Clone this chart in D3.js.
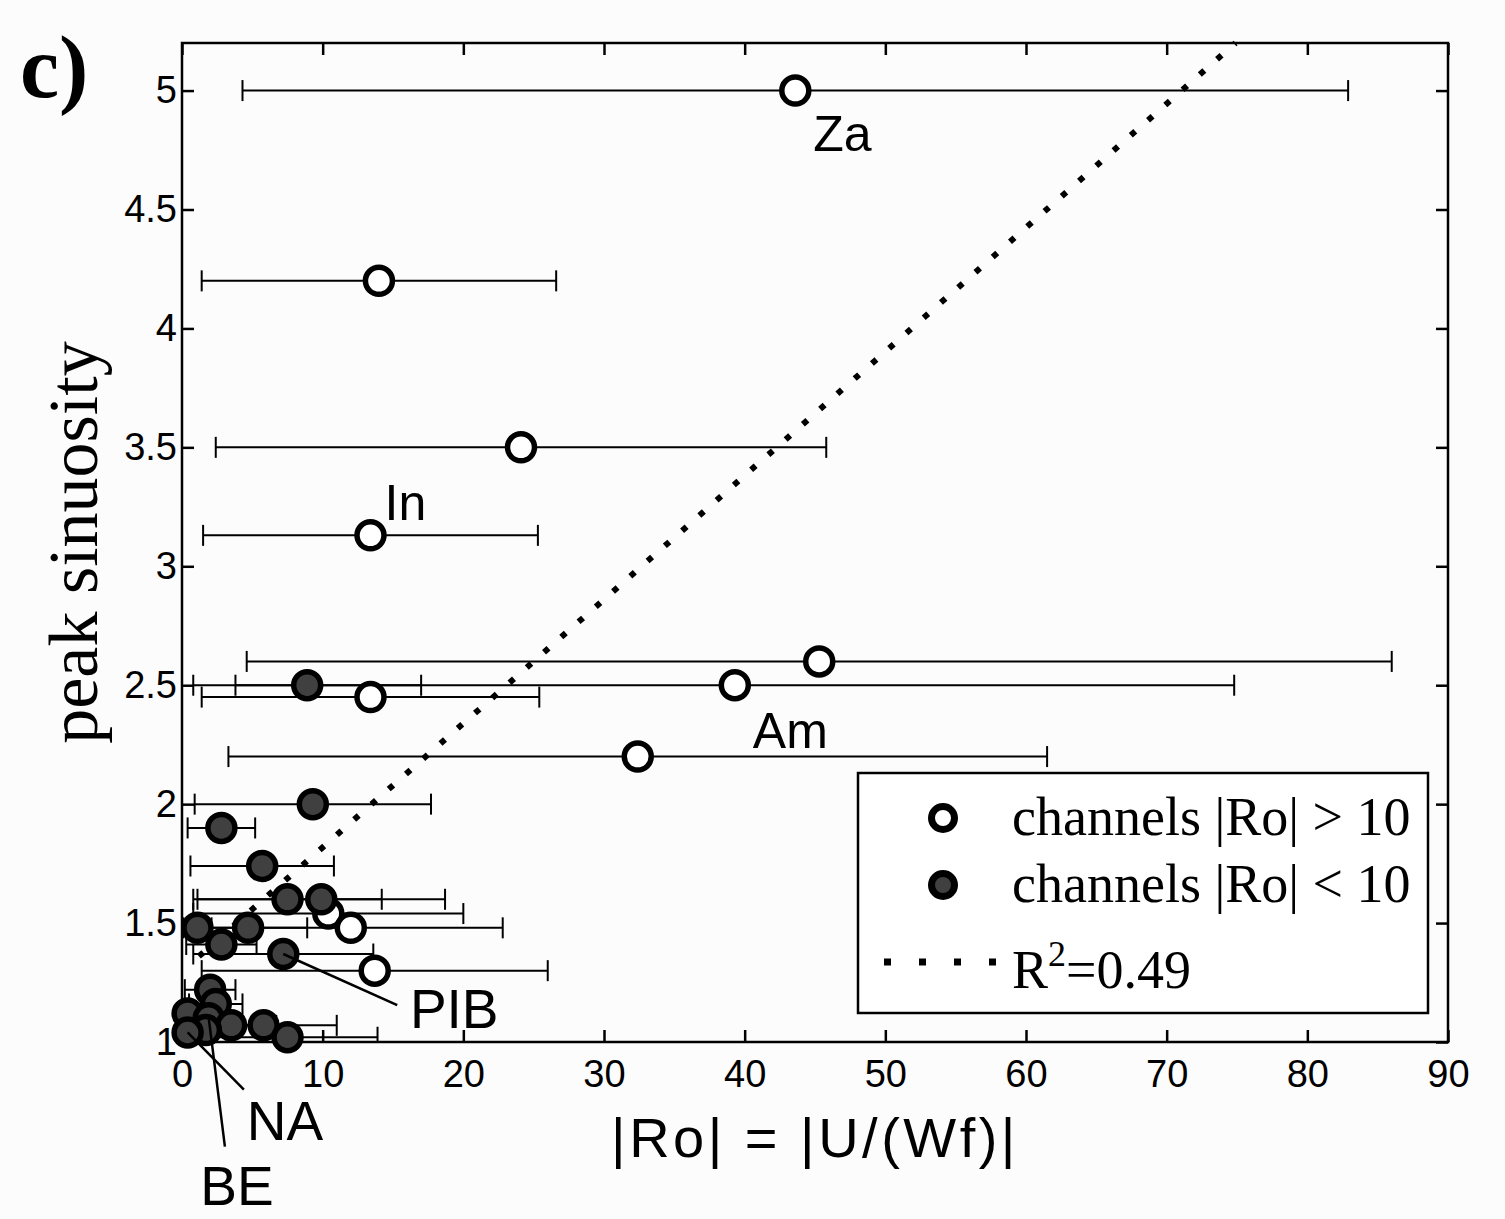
<!DOCTYPE html>
<html>
<head>
<meta charset="utf-8">
<script src="https://cdn.jsdelivr.net/npm/d3@7"></script>
<style>
  body { margin: 0; background: #fcfcfc; }
  svg { display: block; }
</style>
</head>
<body>
<script>
// open circles: channels |Ro| > 10
var openX   = [43.6, 14.0, 24.1, 13.4, 45.3, 39.3, 13.4, 32.4, 10.4, 12.0, 13.7];
var openY   = [5.00, 4.20, 3.50, 3.13, 2.60, 2.50, 2.45, 2.20, 1.54, 1.48, 1.30];
var openErr = [39.3, 12.6, 21.7, 11.9, 40.7, 35.5, 12.0, 29.1, 9.6, 10.8, 12.3];

// filled circles: channels |Ro| < 10
var fillX   = [8.9, 9.3, 2.8, 5.7, 7.5, 9.9, 1.1, 4.7, 2.8, 7.2, 2.0, 2.4, 0.4, 1.9, 3.5, 5.8, 1.7, 0.4, 7.5];
var fillY   = [2.50, 2.00, 1.90, 1.74, 1.60, 1.60, 1.48, 1.48, 1.41, 1.37, 1.22, 1.16, 1.12, 1.10, 1.07, 1.07, 1.05, 1.04, 1.02];
var fillErr = [8.1, 8.4, 2.4, 5.1, 6.7, 8.8, 1.0, 4.2, 2.5, 6.4, 1.8, 1.9, 0.4, 1.5, 3.2, 5.2, 1.4, 0.3, 6.4];

// linear fit, R^2 = 0.49
var fitX = [1.2, 74.9];
var fitY = [1.36, 5.20];

var xTicks = [0, 10, 20, 30, 40, 50, 60, 70, 80, 90];
var yTicks = [1, 1.5, 2, 2.5, 3, 3.5, 4, 4.5, 5];

// point labels, [name, point x, point y]
var plainLabels = [["Za", 43.6, 5.00], ["In", 13.4, 3.13], ["Am", 39.3, 2.50]];
// callout labels: [name, from x, from y, to x, to y, text x, text y]
var calloutLabels = [
    ["PIB", 7.2, 1.37, 15.3, 1.155, 16.2, 1.06],
    ["NA", 0.4, 1.04, 4.4, 0.80, 4.6, 0.588],
    ["BE", 1.9, 1.10, 3.05, 0.56, 1.3, 0.315]
];

const canvWidth = 1505, canvHeight = 1219;
const margin = {top: 43, right: 57, bottom: 177, left: 182};
const width = canvWidth - margin.left - margin.right;
const height = canvHeight - margin.top - margin.bottom;

const svg = d3.select("body").append("svg")
    .attr("width", canvWidth)
    .attr("height", canvHeight);

svg.append("rect")
    .attr("width", canvWidth).attr("height", canvHeight)
    .attr("fill", "#fcfcfc");

const g = svg.append("g")
    .attr("transform", "translate(" + margin.left + "," + margin.top + ")");

var xScale = d3.scaleLinear().domain([0, 90]).range([0, width]);
var yScale = d3.scaleLinear().domain([1, 5.2]).range([height, 0]);

// axes, ticks pointing inward, mirrored on top and right
var sans = "'Liberation Sans', Arial, Helvetica, sans-serif";
var serif = "'Liberation Serif', 'Times New Roman', serif";

function styleAxis(sel, showText) {
    sel.select(".domain").remove();
    sel.selectAll("line").attr("stroke", "#000").attr("stroke-width", 2.5);
    sel.selectAll("text")
        .attr("font-family", sans)
        .attr("font-size", "38px")
        .attr("fill", "#000")
        .style("display", showText ? null : "none");
}

g.append("g")
    .attr("transform", "translate(0," + height + ")")
    .call(d3.axisBottom(xScale).tickValues(xTicks).tickSizeInner(-12).tickSizeOuter(0).tickPadding(18))
    .call(styleAxis, true);
g.append("g")
    .call(d3.axisTop(xScale).tickValues(xTicks).tickSizeInner(-12).tickSizeOuter(0))
    .call(styleAxis, false);
g.append("g")
    .call(d3.axisLeft(yScale).tickValues(yTicks).tickSizeInner(-12).tickSizeOuter(0).tickPadding(5).tickFormat(d => String(d)))
    .call(styleAxis, true);
g.append("g")
    .attr("transform", "translate(" + width + ",0)")
    .call(d3.axisRight(yScale).tickValues(yTicks).tickSizeInner(-12).tickSizeOuter(0))
    .call(styleAxis, false);

g.append("rect")
    .attr("width", width).attr("height", height)
    .attr("fill", "none").attr("stroke", "#000").attr("stroke-width", 2.5);

// data rows
var openData = openX.map((x, i) => ({x: x, y: openY[i], e: openErr[i]}));
var fillData = fillX.map((x, i) => ({x: x, y: fillY[i], e: fillErr[i]}));
var allData = openData.concat(fillData);

g.append("clipPath").attr("id", "plotclip")
    .append("rect").attr("width", width).attr("height", height);

// error bars
var bars = g.append("g").attr("clip-path", "url(#plotclip)")
    .selectAll("g.ebar").data(allData).enter()
    .append("g").attr("class", "ebar")
    .attr("stroke", "#000").attr("stroke-width", 2);
bars.append("line")
    .attr("x1", d => xScale(d.x - d.e)).attr("x2", d => xScale(d.x + d.e))
    .attr("y1", d => yScale(d.y)).attr("y2", d => yScale(d.y));
bars.append("line")
    .attr("x1", d => xScale(d.x - d.e)).attr("x2", d => xScale(d.x - d.e))
    .attr("y1", d => yScale(d.y) - 10.5).attr("y2", d => yScale(d.y) + 10.5);
bars.append("line")
    .attr("x1", d => xScale(d.x + d.e)).attr("x2", d => xScale(d.x + d.e))
    .attr("y1", d => yScale(d.y) - 10.5).attr("y2", d => yScale(d.y) + 10.5);

// dotted fit line
var lineFunction = d3.line().x(d => xScale(d[0])).y(d => yScale(d[1]));
g.append("path")
    .attr("d", lineFunction(fitX.map((x, i) => [x, fitY[i]])))
    .attr("fill", "none")
    .attr("stroke", "#000")
    .attr("stroke-width", 6)
    .attr("stroke-dasharray", "6,17");

// circles
g.selectAll("circle.open").data(openData).enter()
    .append("circle").attr("class", "open")
    .attr("cx", d => xScale(d.x)).attr("cy", d => yScale(d.y))
    .attr("r", 13.5)
    .attr("fill", "#fff").attr("stroke", "#000").attr("stroke-width", 5.5);

g.selectAll("circle.fill").data(fillData).enter()
    .append("circle").attr("class", "fill")
    .attr("cx", d => xScale(d.x)).attr("cy", d => yScale(d.y))
    .attr("r", 13.5)
    .attr("fill", "#404040").attr("stroke", "#000").attr("stroke-width", 5.5);

// labels
g.selectAll("text.plabel").data(plainLabels).enter()
    .append("text").attr("class", "plabel")
    .attr("x", d => xScale(d[1]) + (d[0] == "In" ? 14 : 18))
    .attr("y", d => yScale(d[2]) + (d[0] == "In" ? -15 : (d[0] == "Za" ? 60 : 63)))
    .attr("font-family", sans).attr("font-size", "50px")
    .text(d => d[0]);

g.selectAll("line.callout").data(calloutLabels).enter()
    .append("line").attr("class", "callout")
    .attr("x1", d => xScale(d[1])).attr("y1", d => yScale(d[2]))
    .attr("x2", d => xScale(d[3])).attr("y2", d => yScale(d[4]))
    .attr("stroke", "#000").attr("stroke-width", 2.5);

g.selectAll("text.clabel").data(calloutLabels).enter()
    .append("text").attr("class", "clabel")
    .attr("x", d => xScale(d[5])).attr("y", d => yScale(d[6]))
    .attr("font-family", sans).attr("font-size", "55px")
    .text(d => d[0]);

// axis titles
svg.append("text")
    .attr("x", margin.left + width / 2).attr("y", 1157)
    .attr("text-anchor", "middle")
    .attr("font-family", sans).attr("font-size", "56px")
    .attr("letter-spacing", "3.5px")
    .text("|Ro| = |U/(Wf)|");

svg.append("text")
    .attr("transform", "translate(97," + (margin.top + height / 2) + ") rotate(-90)")
    .attr("text-anchor", "middle")
    .attr("font-family", serif).attr("font-size", "70px")
    .text("peak sinuosity");

svg.append("text")
    .attr("x", 20).attr("y", 97)
    .attr("font-family", serif).attr("font-weight", "bold").attr("font-size", "88px")
    .text("c)");

// legend
const legend = svg.append("g").attr("transform", "translate(858,773)");
legend.append("rect")
    .attr("width", 570).attr("height", 240)
    .attr("fill", "#fff").attr("stroke", "#000").attr("stroke-width", 2.5);
legend.append("circle").attr("cx", 85).attr("cy", 45).attr("r", 11.5)
    .attr("fill", "#fff").attr("stroke", "#000").attr("stroke-width", 7);
legend.append("circle").attr("cx", 85).attr("cy", 112).attr("r", 11.5)
    .attr("fill", "#404040").attr("stroke", "#000").attr("stroke-width", 7);
legend.append("line").attr("x1", 26).attr("x2", 138).attr("y1", 189).attr("y2", 189)
    .attr("stroke", "#000").attr("stroke-width", 7).attr("stroke-dasharray", "7,28");
var legendText = ["channels |Ro| > 10", "channels |Ro| < 10"];
legend.selectAll("text.lt").data(legendText).enter()
    .append("text").attr("class", "lt")
    .attr("x", 154).attr("y", (d, i) => 62 + i * 67)
    .attr("font-family", serif).attr("font-size", "54px")
    .text(d => d);
var r2 = legend.append("text").attr("x", 154).attr("y", 215)
    .attr("font-family", serif).attr("font-size", "54px");
r2.append("tspan").text("R");
r2.append("tspan").attr("dy", -22).attr("font-size", "36px").text("2");
r2.append("tspan").attr("dy", 22).text("=0.49");
</script>
</body>
</html>
